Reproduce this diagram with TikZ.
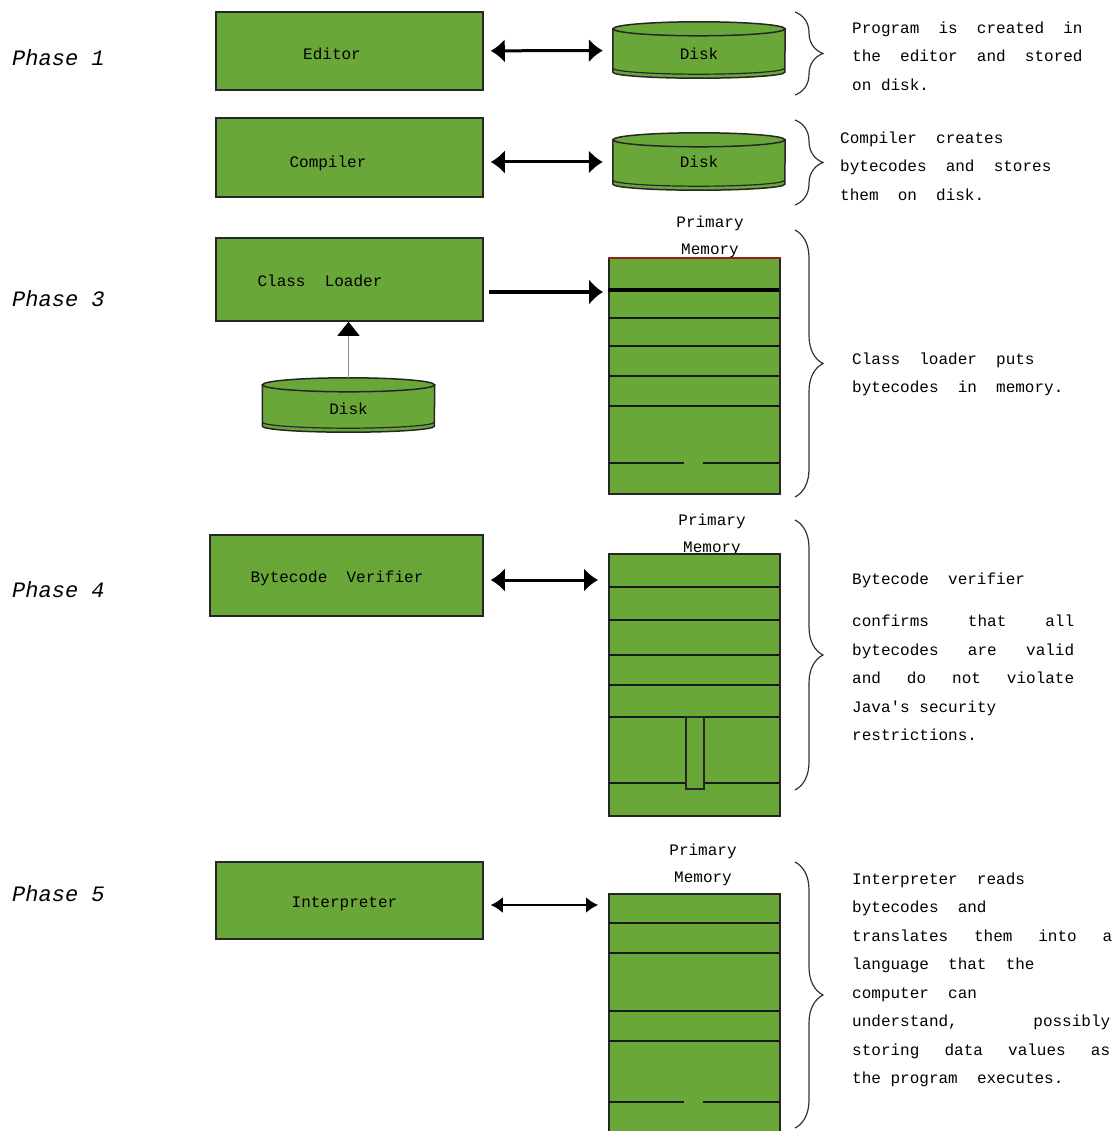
\documentclass[tikz,border=0pt]{standalone}
\usepackage{fontspec}
\setmonofont{Liberation Mono}
\usepackage{tikz}
\usetikzlibrary{calc,arrows.meta,backgrounds,decorations.pathreplacing}
\definecolor{boxgreen}{RGB}{106,167,57}
\definecolor{memred}{RGB}{150,30,30}
\def\boxfont{\fontsize{16}{20}\selectfont\ttfamily\frenchspacing\spaceskip=1.2em\relax}
\def\notefont{\fontsize{16}{28.5}\selectfont\ttfamily\frenchspacing\spaceskip=1.2em\relax}
\def\phasefont{\fontsize{22}{24}\selectfont\ttfamily\itshape}
\def\os{\hspace{0.6em}}
\def\jl#1#2{{\spaceskip=1.2em plus 1fil\makebox[#1][s]{#2}}}
\def\lbl#1#2#3{\raisebox{#2}[0pt][0pt]{#3\hspace{#1}\mbox{}}}
\def\drawdisk#1{%
	\begin{pgfonlayer}{background}
		\filldraw[diskface] (#1.north west) -- (#1.south west) arc[start angle=180, end angle=360, x radius=86pt, y radius=6pt] -- (#1.north east) -- cycle;
		\filldraw[diskface] (#1.north) ellipse [x radius=86pt, y radius=7pt];
		\draw[diskface, fill=none, line width=1.2pt] ([yshift=4pt]#1.south west) arc[start angle=180, end angle=360, x radius=86pt, y radius=6pt];
	\end{pgfonlayer}}
\tikzset{
	phasename/.style={anchor=west, inner sep=0pt, font=\phasefont},
	stagebox/.style={draw=black!85, line width=1.5pt, fill=boxgreen, inner sep=0pt, font=\boxfont},
	disk/.style={inner sep=0pt, minimum width=172pt, font=\boxfont},
	diskface/.style={draw=black!85, line width=1.5pt, fill=boxgreen},
	membox/.style={draw=black!85, line width=1.5pt, fill=boxgreen, minimum width=171pt, inner sep=0pt, anchor=north west},
	memlabel/.style={align=center, inner sep=0pt, font=\fontsize{16}{27}\selectfont\ttfamily},
	memline/.style={line width=2pt, black!90},
	notes/.style={anchor=north west, align=left, inner sep=0pt, font=\notefont},
	dblarrow/.style={line width=3pt, {Latex[length=14pt,width=24pt]}-{Latex[length=14pt,width=24pt]}},
	thinarrow/.style={line width=2pt, {Latex[length=12pt,width=16pt]}-{Latex[length=12pt,width=16pt]}},
	fwdarrow/.style={line width=4pt, -{Latex[length=14pt,width=26pt]}},
	uparrow/.style={draw=black!45, line width=1pt, -{Triangle[length=14pt,width=22pt,color=black]}},
	bracer/.style={decorate, decoration={brace, amplitude=28pt}, line width=1.2pt, black!80}
}

\begin{document}
\begin{tikzpicture}[x=1pt, y=1pt]
	%%%%% START %%%%%
	\useasboundingbox (0,0) rectangle (1117,-1131);
	
	\node[phasename] (ph1) at (12,-58) {Phase 1};
	\node[phasename] (ph3) at (12,-299) {Phase 3};
	\node[phasename] (ph4) at (12,-590) {Phase 4};
	\node[phasename] (ph5) at (12,-894) {Phase 5};
	
	\node[stagebox, minimum width=267pt, minimum height=78pt] (editor) at (349.5,-51) {\lbl{35pt}{-8.5pt}{Editor}};
	\node[stagebox, minimum width=267pt, minimum height=79pt] (compiler) at (349.5,-157.5) {\lbl{43pt}{-10pt}{Compiler}};
	\node[stagebox, minimum width=267pt, minimum height=83pt] (loader) at (349.5,-279.5) {\lbl{59pt}{-7pt}{Class Loader}};
	\node[stagebox, minimum width=273pt, minimum height=81pt] (verifier) at (346.5,-575.5) {\lbl{19pt}{-7pt}{Bytecode Verifier}};
	\node[stagebox, minimum width=267pt, minimum height=77pt] (interp) at (349.5,-900.5) {\lbl{10pt}{-7pt}{Interpreter}};
	
	\node[disk, minimum height=43pt] (disk1) at (699,-50.5) {\lbl{0pt}{-9pt}{Disk}};
	\drawdisk{disk1}
	\node[disk, minimum height=44pt] (disk2) at (699,-162) {\lbl{0pt}{-6pt}{Disk}};
	\drawdisk{disk2}
	\node[disk, minimum height=41pt] (disk3) at (348.5,-405.5) {\lbl{0pt}{-9pt}{Disk}};
	\drawdisk{disk3}
	
	\draw[dblarrow, shorten <=7pt, shorten >=10pt] (editor) -- (disk1);
	\draw[dblarrow, shorten <=7pt, shorten >=10pt] (compiler.east |- disk2.west) -- (disk2.west);
	\draw[uparrow, shorten <=7pt] (disk3.north) -- (disk3.north |- loader.south);
	
	% primary memory, phase 3
	\node[memlabel] (m1lab) at (710,-237) {Primary\\Memory};
	\node[membox, minimum height=235pt] (m1) at (608,-258) {};
	\draw[line width=3.5pt] (608,-290) -- (779,-290);
	\foreach \y in {318,346,376,406}
		\draw[memline] (608,-\y) -- (779,-\y);
	\draw[memline] (608,-463) -- (684,-463);
	\draw[memline] (703,-463) -- (779,-463);
	\draw[line width=2.5pt, memred] (m1.north west) -- (m1.north east);
	\coordinate (lout) at ([yshift=-12.5pt]loader.east);
	\draw[fwdarrow, shorten <=5pt, shorten >=5pt] (lout) -- (lout -| m1.west);
	
	% primary memory, phase 4
	\node[memlabel] (m2lab) at (712,-535) {Primary\\Memory};
	\node[membox, minimum height=262pt] (m2) at (608,-553) {};
	\foreach \y in {587,620,655,685,717,783}
		\draw[memline] (608,-\y) -- (779,-\y);
	\draw[line width=1.5pt, draw=black!85, fill=boxgreen] (686,-717) rectangle (704,-789);
	\coordinate (vout) at ([yshift=-4.5pt]verifier.east);
	\draw[dblarrow, shorten <=7pt, shorten >=10pt] (vout) -- (vout -| m2.west);
	
	% primary memory, phase 5
	\node[memlabel] (m3lab) at (703,-865) {Primary\\Memory};
	\node[membox, minimum height=238pt] (m3) at (608,-893) {};
	\foreach \y in {923,953,1011,1041}
		\draw[memline] (608,-\y) -- (779,-\y);
	\draw[memline] (608,-1102) -- (684,-1102);
	\draw[memline] (703,-1102) -- (779,-1102);
	\coordinate (iout) at ([yshift=-4.5pt]interp.east);
	\draw[thinarrow, shorten <=7pt, shorten >=10pt] (iout) -- (iout -| m3.west);
	
	% braces
	\draw[bracer] (795,-12) -- (795,-95);
	\draw[bracer] (795,-120) -- (795,-205);
	\draw[bracer] (795,-230) -- (795,-497);
	\draw[bracer] (795,-520) -- (795,-790);
	\draw[bracer] (795,-862) -- (795,-1128);
	
	% notes
	\node[notes] (note1) at (852,-21.5) {\jl{230pt}{Program is created in}\\\jl{230pt}{the editor and stored}\\on\os disk.};
	\node[notes] (note2) at (840,-131.5) {Compiler creates\\bytecodes and stores\\them on disk.};
	\node[notes] (note3) at (852,-352.5) {Class loader puts\\bytecodes in memory.};
	\node[notes] (note4) at (852,-572.5) {Bytecode verifier\\[14pt]\jl{222pt}{confirms that all}\\\jl{222pt}{bytecodes are valid}\\\jl{222pt}{and do not violate}\\Java's\os security\\restrictions.};
	\node[notes] (note5) at (852,-872.5) {Interpreter reads\\bytecodes and\\\jl{260pt}{translates them into a}\\language that the\\computer can\\\jl{258pt}{understand, possibly}\\\jl{258pt}{storing data values as}\\the\os program executes.};
	
	%%%%% END %%%%%
\end{tikzpicture}
\end{document}
